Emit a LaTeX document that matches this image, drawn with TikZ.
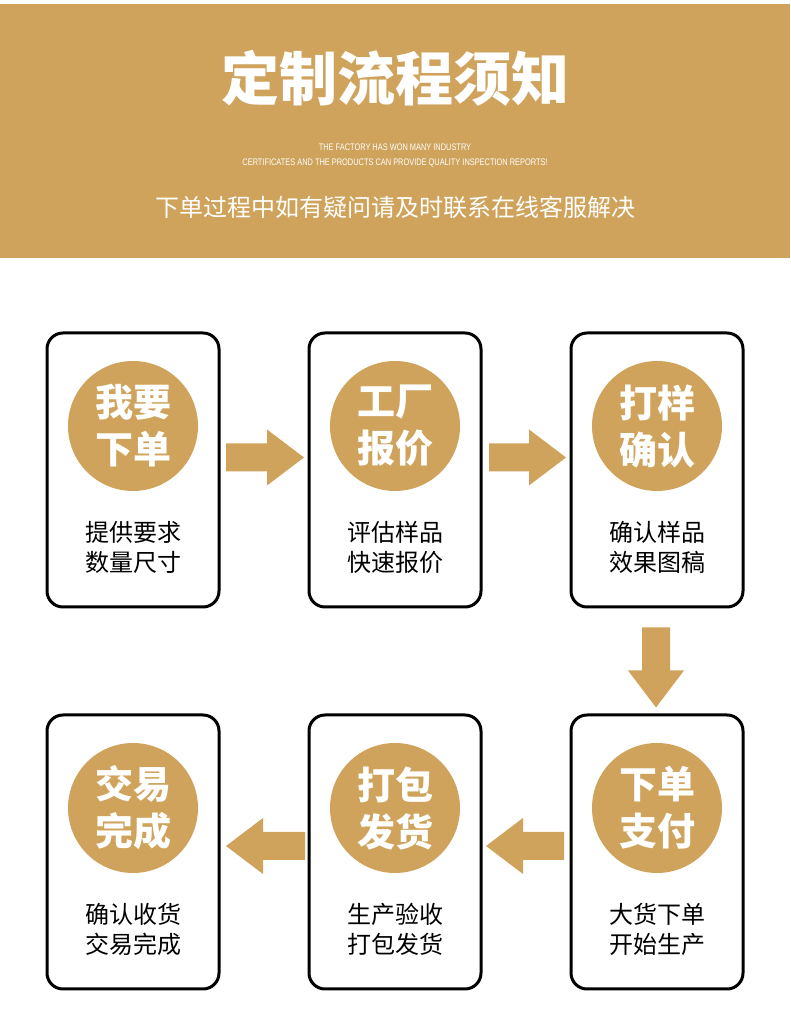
\documentclass[tikz,border=0pt]{standalone}
\usepackage{fontspec}
\setmainfont{Noto Sans CJK SC}
\newfontfamily\condfont[FakeStretch=0.78]{Liberation Sans}
\usepackage{tikz}
\usetikzlibrary{positioning, calc}
\definecolor{gold1}{RGB}{207, 163, 91}

% thick block arrow from #1 to #2
\newcommand{\flowarrow}[2]{%
  \path ($(#2)!37pt!(#1)$) coordinate (hb);
  \fill[gold1] ($(#1)!14pt!90:(#2)$) -- ($(hb)!14pt!90:(#2)$) -- ($(hb)!28pt!90:(#2)$)
    -- (#2) -- ($(hb)!28pt!-90:(#2)$) -- ($(hb)!14pt!-90:(#2)$) -- ($(#1)!14pt!-90:(#2)$) -- cycle;
}

\begin{document}
\begin{tikzpicture}[x=1pt, y=1pt,
  stepbox/.style={draw, line width=3pt, rounded corners=16pt, minimum width=172pt, minimum height=274pt, inner sep=0pt, outer sep=0pt},
  badge/.style={circle, fill=gold1, minimum size=130pt, inner sep=0pt, outer sep=0pt, text=white, align=center,
    font=\bfseries\fontsize{38}{47}\selectfont, execute at begin node={\rule{0pt}{41pt}}},
  note/.style={align=center, font=\fontsize{24}{30}\selectfont}]

  \useasboundingbox (0,0) rectangle (790,1033);

  % header
  \fill[gold1] (0,775) rectangle (790,1029);
  \node[text=white, font=\bfseries\fontsize{58}{58}\selectfont] (title) at (395,955) {定制流程须知};
  \node[text=white, align=center, font=\condfont\fontsize{9.5}{15}\selectfont] (motto) at (395,877.5)
    {THE FACTORY HAS WON MANY INDUSTRY\\CERTIFICATES AND THE PRODUCTS CAN PROVIDE QUALITY INSPECTION REPORTS!};
  \node[text=white, font=\fontsize{24}{24}\selectfont] (hint) at (395,826) {下单过程中如有疑问请及时联系在线客服解决};

  % steps
  \node[stepbox] (order) at (133,563) {};
  \node[stepbox, right=90pt of order] (quote) {};
  \node[stepbox, right=90pt of quote] (sample) {};
  \node[stepbox, below=108pt of sample] (pay) {};
  \node[stepbox, left=90pt of pay] (ship) {};
  \node[stepbox, left=90pt of ship] (done) {};

  \node[badge, below=28pt of order.north] (order-c) {我要\\下单};
  \node[badge, below=28pt of quote.north] (quote-c) {工厂\\报价};
  \node[badge, below=28pt of sample.north] (sample-c) {打样\\确认};
  \node[badge, below=28pt of pay.north] (pay-c) {下单\\支付};
  \node[badge, below=28pt of ship.north] (ship-c) {打包\\发货};
  \node[badge, below=28pt of done.north] (done-c) {交易\\完成};

  \node[note] (order-t) at ([yshift=-77pt]order.center) {提供要求\\数量尺寸};
  \node[note] (quote-t) at ([yshift=-77pt]quote.center) {评估样品\\快速报价};
  \node[note] (sample-t) at ([yshift=-77pt]sample.center) {确认样品\\效果图稿};
  \node[note] (pay-t) at ([yshift=-77pt]pay.center) {大货下单\\开始生产};
  \node[note] (ship-t) at ([yshift=-77pt]ship.center) {生产验收\\打包发货};
  \node[note] (done-t) at ([yshift=-77pt]done.center) {确认收货\\交易完成};

  % arrows
  \coordinate (a1s) at ([shift={(7pt,12.5pt)}]order.east);
  \coordinate (a1e) at ([shift={(-5pt,12.5pt)}]quote.west);
  \coordinate (a2s) at ([shift={(8pt,12.5pt)}]quote.east);
  \coordinate (a2e) at ([shift={(-5pt,12.5pt)}]sample.west);
  \coordinate (a3s) at ([shift={(-1pt,-20.5pt)}]sample.south);
  \coordinate (a3e) at ([shift={(-1pt,7.5pt)}]pay.north);
  \coordinate (a4s) at ([shift={(-7pt,6pt)}]pay.west);
  \coordinate (a4e) at ([shift={(5pt,6pt)}]ship.east);
  \coordinate (a5s) at ([shift={(-4pt,6pt)}]ship.west);
  \coordinate (a5e) at ([shift={(7pt,6pt)}]done.east);
  \flowarrow{a1s}{a1e}
  \flowarrow{a2s}{a2e}
  \flowarrow{a3s}{a3e}
  \flowarrow{a4s}{a4e}
  \flowarrow{a5s}{a5e}
\end{tikzpicture}
\end{document}
